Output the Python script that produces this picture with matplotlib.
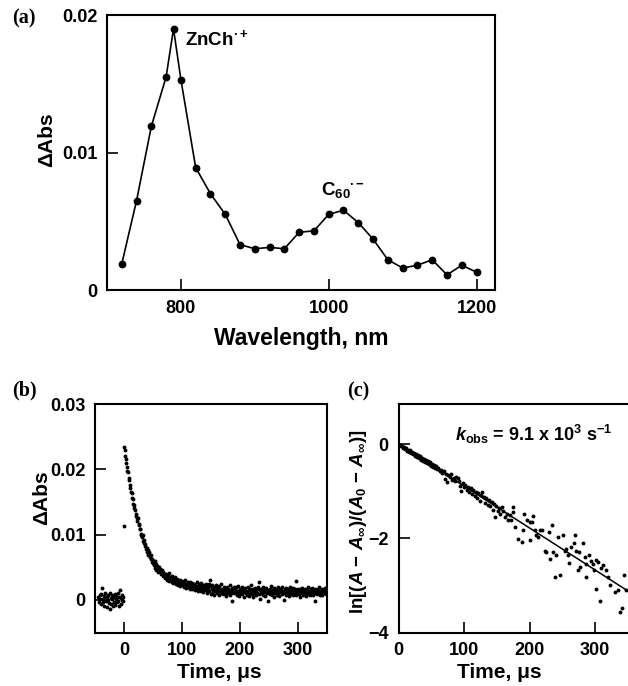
import numpy as np
import matplotlib
matplotlib.use("Agg")
import matplotlib.pyplot as plt

# (a) transient absorption spectrum
wavelength_nm = [720, 740, 760, 780, 790, 800, 820, 840, 860, 880, 900, 920, 940,
                 960, 980, 1000, 1020, 1040, 1060, 1080, 1100, 1120, 1140, 1160,
                 1180, 1200]
dabs_a = [0.0019, 0.0065, 0.0119, 0.0155, 0.0190, 0.0153, 0.0089, 0.0070, 0.0055,
          0.0033, 0.0030, 0.0031, 0.0030, 0.0042, 0.0043, 0.0055, 0.0058, 0.0049,
          0.0037, 0.0022, 0.0016, 0.0018, 0.0022, 0.0011, 0.0018, 0.0013]

# (b) decay trace, values in units of 1e-3 Abs
t_pre = np.arange(-44, 0)
dabs_pre = [0.5, -0.3, 0.8, 0.1, -0.6, 0.9, 1.8, 0.2, -0.4, 0.6,
            -0.9, 0.3, 1.0, -0.2, 0.4, -1.1, 0.7, 0.0, -0.5, 1.1,
            -1.4, 0.3, -0.7, 0.8, 0.1, -1.0, 0.5, -0.3, 0.9, -0.8,
            0.2, 0.6, -0.4, 1.0, -0.1, 0.4, -0.9, 1.5, 0.3, -0.6,
            0.7, 0.0, 0.5, -0.2]
t_jump = [0, 0]
dabs_jump = [23.4, 11.3]
t_decay = np.arange(1, 351)
dabs_decay = [
    22.9, 22.0, 21.6, 20.9, 20.4, 19.8, 19.6, 18.7, 18.4, 17.6,
    17.2, 16.5, 16.4, 15.6, 15.5, 14.7, 14.6, 14.0, 13.8, 13.1,
    12.9, 12.6, 12.1, 12.5, 11.4, 11.6, 10.8, 10.9, 10.1, 9.9,
    9.6, 9.9, 9.0, 8.7, 9.1, 8.3, 8.6, 7.8, 7.9, 7.3,
    7.6, 6.9, 7.4, 6.6, 6.8, 6.2, 6.9, 5.8, 6.3, 5.6,
    5.9, 5.3, 6.0, 4.9, 5.5, 4.6, 5.2, 4.8, 4.3, 5.0,
    4.4, 4.7, 3.9, 4.6, 4.1, 4.5, 3.6, 4.2, 3.8, 3.4,
    4.0, 3.5, 3.9, 3.1, 3.7, 3.3, 4.1, 2.9, 3.5, 3.0,
    3.4, 2.7, 3.6, 3.0, 2.6, 3.3, 2.8, 3.5, 2.4, 3.0,
    2.6, 3.2, 2.3, 2.9, 2.5, 3.1, 2.1, 2.7, 2.4, 2.9,
    2.2, 2.8, 1.9, 2.6, 2.3, 3.0, 1.8, 2.5, 2.1, 2.7,
    2.0, 2.4, 1.7, 2.8, 2.2, 1.9, 2.6, 1.6, 2.3, 2.0,
    2.5, 1.5, 2.2, 1.9, 2.7, 1.7, 2.1, 1.4, 2.4, 1.8,
    2.0, 1.3, 2.6, 1.6, 2.2, 1.9, 1.2, 2.3, 1.7, 2.0,
    1.5, 2.4, 1.1, 1.9, 1.6, 2.5, 1.3, 3.0, 2.1, 0.9,
    1.7, 2.3, 1.2, 1.6, 2.0, 0.8, 1.9, 1.4, 2.2, 1.1,
    1.5, 1.8, 0.7, 2.1, 1.3, 1.6, 1.0, 2.4, 1.2, 1.7,
    0.9, 1.5, 2.0, 1.1, 1.8, 0.6, 1.4, 1.9, 1.0, 1.6,
    1.3, 2.2, 0.8, 1.5, 1.1, 1.8, -0.1, 1.4, 2.0, 1.0,
    1.6, 1.2, 1.9, 0.7, 1.4, 1.0, 2.1, 1.3, 0.6, 1.7,
    1.1, 1.5, 0.9, 2.0, 1.2, 1.6, 0.4, 1.3, 1.8, 1.0,
    1.4, 0.8, 1.9, 1.2, 1.5, 0.6, 1.7, 1.1, 2.2, 0.9,
    1.3, 1.7, 0.5, 1.4, 1.0, 1.8, 1.2, 0.7, 1.6, 1.1,
    1.9, 0.9, 2.8, 1.5, 0.1, 1.7, 1.1, 1.4, 0.8, 2.0,
    1.2, 1.6, 0.6, 1.3, 1.8, 1.0, 1.5, -0.2, 1.4, 1.1,
    1.7, 0.9, 1.3, 2.1, 0.7, 1.5, 1.2, 1.8, 0.5, 1.4,
    1.0, 1.6, 1.3, 0.8, 1.9, 1.1, 1.4, 0.6, 1.7, 1.2,
    1.5, 0.9, 2.0, 1.1, 1.3, 0.0, 1.6, 1.2, 1.8, 0.8,
    1.4, 1.0, 1.7, 1.3, 0.6, 1.9, 1.1, 1.5, 0.9, 1.3,
    1.8, 0.7, 1.2, 1.6, 1.0, 2.9, 0.8, 1.4, 1.1, 1.7,
    0.9, 1.3, 1.6, 0.5, 1.4, 1.1, 1.8, 0.8, 1.2, 1.5,
    1.0, 1.7, 1.3, 0.6, 1.5, 1.1, 1.9, 0.9, 1.4, 1.2,
    0.7, 1.6, 1.0, 1.4, 1.8, 0.8, 1.3, 1.1, 1.6, -0.1,
    1.2, 1.5, 0.9, 1.7, 1.3, 1.0, 1.9, 0.7, 1.4, 1.1,
    1.6, 0.8, 1.3, 1.5, 1.0, 1.8, 1.2, 0.9, 1.4, 1.1,
]

# (c) first-order plot
t_c = [1, 2.5, 4, 5.5, 7, 8.5, 10, 11.5, 13, 14.5, 16, 17.5, 19, 20.5, 22, 23.5,
       25, 26.5, 28, 29.5, 31, 32.5, 34, 35.5, 37, 38.5, 40, 41.5, 43, 44.5, 46,
       47.5, 49, 50.5, 52, 53.5, 55, 56.5, 58, 59.5,
       61, 63, 65, 67, 69, 71, 72.5, 74, 76, 78, 80, 82, 84, 86, 88, 90, 92, 94,
       96, 98, 100, 102, 104, 106, 108, 110, 112, 114, 116, 118, 120, 122, 124,
       126, 128, 130, 132, 134, 136, 138, 140, 142, 144, 146, 147.5, 149, 151,
       153, 155, 159, 170.5, 172,
       157.1, 162.2, 165.7, 167.3, 174.9, 174.9, 177.4, 182.5, 187.6, 191.1,
       190.1, 196.2, 200.2, 204.3, 200.2, 205.3, 207.9, 210.4, 212.9, 215.5,
       219.5, 223.1, 225.6, 229.7, 230.7, 234.3, 235.7, 238.3, 240.9, 243.4,
       246.9, 251.0, 253.5, 256.1, 258.6, 260.1, 263.7, 268.8, 267.2, 271.3,
       275.3, 276.4, 273.8, 281.4, 284.0, 285.5, 286.6, 290.5, 294.2, 296.6,
       298.2, 301.8, 304.3, 300.7, 306.8, 309.4, 311.9, 316.0, 319.5, 322.1,
       329.7, 334.8, 337.3, 341.4, 343.4, 347.5]
ln_c = [-0.02, -0.01, -0.05, -0.04, -0.08, -0.06, -0.11, -0.08, -0.14, -0.12,
        -0.17, -0.13, -0.19, -0.16, -0.22, -0.18, -0.25, -0.21, -0.27, -0.24,
        -0.30, -0.26, -0.33, -0.29, -0.35, -0.32, -0.38, -0.34, -0.40, -0.37,
        -0.43, -0.39, -0.46, -0.42, -0.49, -0.45, -0.50, -0.47, -0.54, -0.51,
        -0.52, -0.58, -0.55, -0.62, -0.57, -0.75, -0.63, -0.80, -0.66, -0.71,
        -0.64, -0.77, -0.72, -0.79, -0.70, -0.72, -0.78, -0.90, -0.99, -0.83,
        -0.92, -0.86, -0.97, -0.91, -1.02, -0.93, -1.06, -0.98, -1.10, -1.01,
        -1.14, -1.04, -1.20, -1.08, -1.02, -1.12, -1.25, -1.14, -1.29, -1.18,
        -1.32, -1.22, -1.40, -1.28, -1.55, -1.31, -1.42, -1.36, -1.48, -1.42,
        -1.50, -1.62,
        -1.33, -1.55, -1.48, -1.61, -1.33, -1.45, -1.76, -2.01, -2.08, -1.48,
        -1.83, -1.62, -1.66, -1.66, -2.03, -1.52, -1.83, -1.94, -1.97, -1.83,
        -1.82, -2.26, -2.29, -1.87, -2.45, -1.71, -2.29, -2.82, -2.36, -1.97,
        -2.78, -1.92, -2.26, -2.23, -2.36, -2.52, -2.19, -1.94, -2.11, -2.27,
        -2.29, -2.61, -2.68, -2.09, -2.40, -2.82, -2.54, -2.36, -2.49, -2.54,
        -2.68, -2.47, -2.50, -3.07, -3.33, -2.64, -2.57, -2.68, -2.82, -3.00,
        -3.14, -3.10, -3.56, -3.49, -2.78, -3.10]
fit_t = [0, 350]
fit_ln = [0.0, -3.12]

plt.rcParams['font.family'] = 'Liberation Sans'
plt.rcParams['font.weight'] = 'bold'
plt.rcParams['axes.labelweight'] = 'bold'
plt.rcParams['mathtext.fontset'] = 'custom'
plt.rcParams['mathtext.rm'] = 'Liberation Sans:bold'
plt.rcParams['mathtext.it'] = 'Liberation Sans:italic:bold'
plt.rcParams['mathtext.bf'] = 'Liberation Sans:bold'
plt.rcParams['mathtext.sf'] = 'Liberation Sans:bold'

W, H = 628, 686
fig = plt.figure(figsize=(W / 100, H / 100), dpi=100)


def box(l, r, t, b):
    return [l / W, 1 - b / H, (r - l) / W, (b - t) / H]


def style(ax):
    ax.tick_params(direction='in', length=8, width=1.2, labelsize=13, pad=7)
    for s in ax.spines.values():
        s.set_linewidth(1.5)


ax1 = fig.add_axes(box(107, 495, 15, 290))
ax2 = fig.add_axes(box(95, 327, 404, 632.5))
ax3 = fig.add_axes(box(398.5, 628, 404, 632.5))

# (a)
ax1.plot(wavelength_nm, dabs_a, '-o', color='k', lw=1.2, ms=4.6)
ax1.set_xlim(700, 1225)
ax1.set_ylim(0, 0.02)
ax1.set_xticks([800, 1000, 1200])
ax1.set_yticks([0, 0.01, 0.02], ['0', '0.01', '0.02'])
style(ax1)
ax1.set_xlabel('Wavelength, nm', fontsize=16.5)
ax1.set_ylabel('\u0394Abs', fontsize=15)
ax1.xaxis.set_label_coords(0.5, -0.135)
ax1.yaxis.set_label_coords(-0.13, 0.545)
ax1.text(805, 0.0178, r'ZnCh$^{\bullet+}$', fontsize=13.5)
ax1.text(990, 0.0069, r'C$_{60}{}^{\bullet-}$', fontsize=13.5)

# (b)
ax2.plot(t_pre, np.array(dabs_pre) * 1e-3, 'o', color='k', ms=2.8, mew=0)
ax2.plot(t_jump, np.array(dabs_jump) * 1e-3, 'o', color='k', ms=2.8, mew=0)
ax2.plot(t_decay, np.array(dabs_decay) * 1e-3, 'o', color='k', ms=2.8, mew=0)
ax2.set_xlim(-50, 350)
ax2.set_ylim(-0.005, 0.03)
ax2.set_xticks([0, 100, 200, 300])
ax2.set_yticks([0, 0.01, 0.02, 0.03], ['0', '0.01', '0.02', '0.03'])
style(ax2)
ax2.set_xlabel('Time, \u03bcs', fontsize=15)
ax2.set_ylabel('\u0394Abs', fontsize=15)
ax2.xaxis.set_label_coords(0.535, -0.135)
ax2.yaxis.set_label_coords(-0.19, 0.59)

# (c)
ax3.plot(t_c, ln_c, 'o', color='k', ms=2.8, mew=0)
ax3.plot(fit_t, fit_ln, '-', color='k', lw=1.1)
ax3.set_xlim(0, 350)
ax3.set_ylim(-4, 0.85)
ax3.set_xticks([0, 100, 200, 300])
ax3.set_yticks([-4, -2, 0], ['\u22124', '\u22122', '0'])
ax3.spines['right'].set_visible(False)
style(ax3)
ax3.set_xlabel('Time, \u03bcs', fontsize=15)
ax3.set_ylabel(r'ln[($A$ $-$ $A_{\infty}$)/($A_0$ $-$ $A_{\infty}$)]', fontsize=13.5)
ax3.xaxis.set_label_coords(0.44, -0.135)
ax3.yaxis.set_label_coords(-0.13, 0.484)
ax3.text(86, 0.07, r'$k_{\rm obs}$ = 9.1 x 10$^3$ s$^{-1}$', fontsize=13)

for x, y, s in [(12, 18, '(a)'), (12, 390, '(b)'), (347, 391, '(c)')]:
    fig.text(x / W, 1 - y / H, s, family='Liberation Serif', fontweight='bold',
             fontsize=14.5, va='center')

fig.savefig('out.png', dpi=100)
